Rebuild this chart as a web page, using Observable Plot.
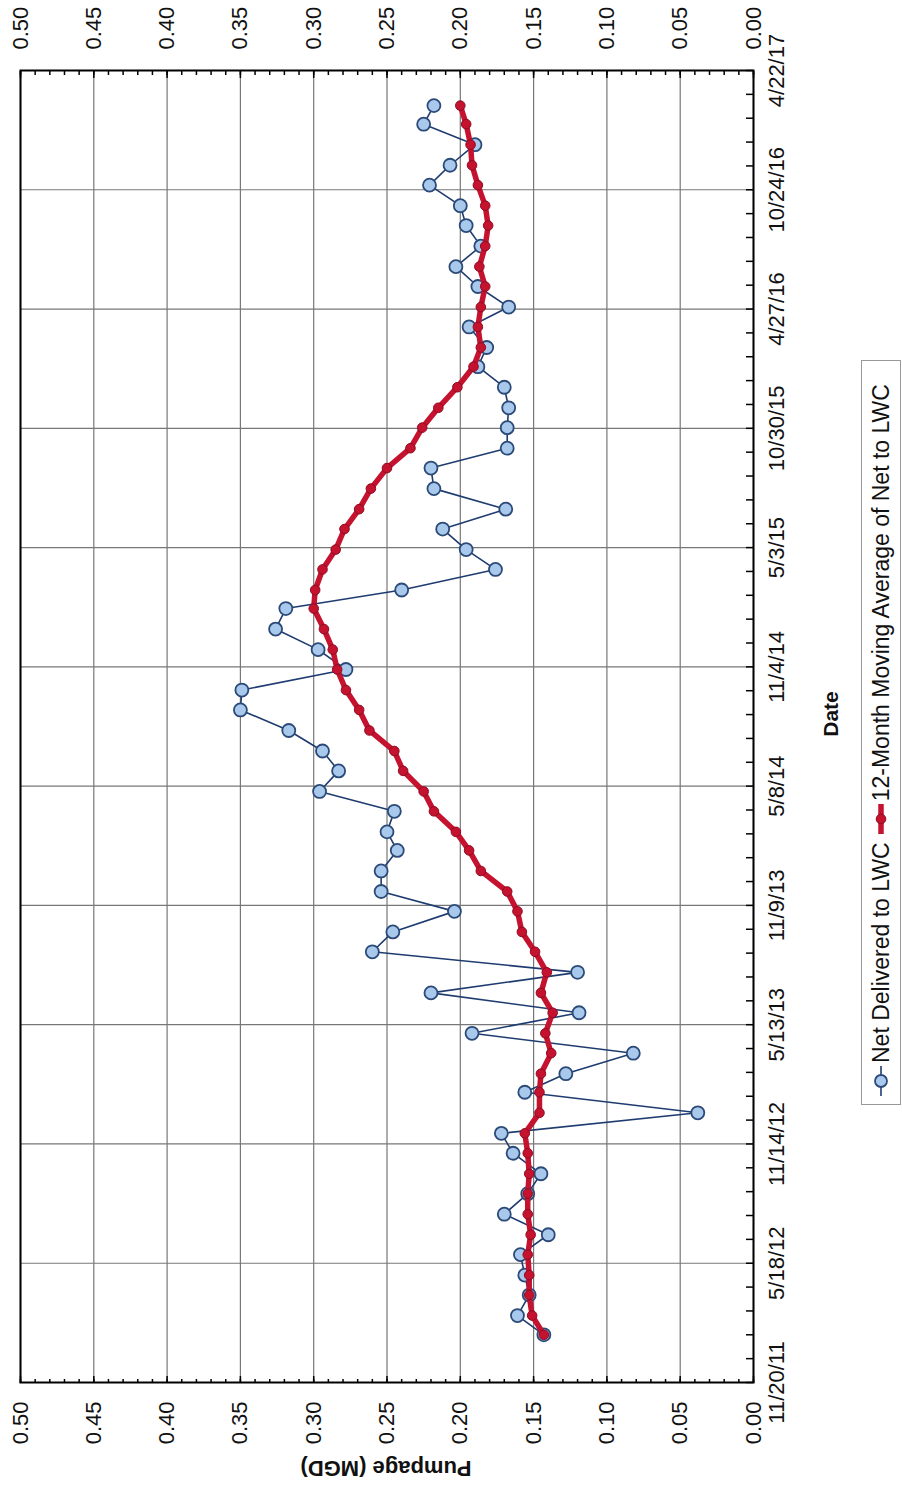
<!DOCTYPE html>
<html>
<head>
<meta charset="utf-8">
<script src="https://cdn.jsdelivr.net/npm/d3@7"></script>
<script src="https://cdn.jsdelivr.net/npm/@observablehq/plot@0.6"></script>
<style>
html, body { margin: 0; padding: 0; background: #fff; overflow: hidden; width: 902px; height: 1486px; }
#rot { position: absolute; left: 0; top: 0; width: 1486px; height: 902px; transform-origin: 0 0;
  transform: translate(0px, 1486px) rotate(-90deg); font-family: Arial, "Liberation Sans", sans-serif; color: #111; }
#chart { position: absolute; left: 0; top: 0; }
#ytitle { position: absolute; left: 18px; top: 386px; transform: translate(-50%, -50%) rotate(-90deg);
  white-space: nowrap; font-weight: bold; font-size: 22px; }
#xtitle { position: absolute; left: 772px; top: 831px; transform: translate(-50%, -50%);
  white-space: nowrap; font-weight: bold; font-size: 21px; }
#legend { position: absolute; left: 381px; top: 861px; width: 745px; height: 40px; box-sizing: border-box;
  border: 1px solid #999; display: flex; align-items: center; font-size: 23px; padding-left: 8px; white-space: nowrap; }
#legend svg { flex: none; }
#legend span { margin-left: 3px; margin-right: 8px; }
</style>
</head>
<body>
<div id="rot">
  <div id="chart"></div>
  <div id="ytitle">Pumpage (MGD)</div>
  <div id="xtitle">Date</div>
  <div id="legend"></div>
</div>
<script>
// ---- data ----
const months = [
  "2012-01-31","2012-02-29","2012-03-31","2012-04-30","2012-05-31","2012-06-30","2012-07-31","2012-08-31","2012-09-30","2012-10-31","2012-11-30","2012-12-31",
  "2013-01-31","2013-02-28","2013-03-31","2013-04-30","2013-05-31","2013-06-30","2013-07-31","2013-08-31","2013-09-30","2013-10-31","2013-11-30","2013-12-31",
  "2014-01-31","2014-02-28","2014-03-31","2014-04-30","2014-05-31","2014-06-30","2014-07-31","2014-08-31","2014-09-30","2014-10-31","2014-11-30","2014-12-31",
  "2015-01-31","2015-02-28","2015-03-31","2015-04-30","2015-05-31","2015-06-30","2015-07-31","2015-08-31","2015-09-30","2015-10-31","2015-11-30","2015-12-31",
  "2016-01-31","2016-02-29","2016-03-31","2016-04-30","2016-05-31","2016-06-30","2016-07-31","2016-08-31","2016-09-30","2016-10-31","2016-11-30","2016-12-31",
  "2017-01-31","2017-02-28"
];
const netDelivered = [
  0.143,0.161,0.153,0.156,0.159,0.140,0.170,0.154,0.145,0.164,0.172,0.038,
  0.156,0.128,0.082,0.192,0.119,0.220,0.120,0.260,0.246,0.204,0.254,0.254,
  0.243,0.250,0.245,0.296,0.283,0.294,0.317,0.350,0.349,0.278,0.297,0.326,
  0.319,0.240,0.176,0.196,0.212,0.169,0.218,0.220,0.168,0.168,0.167,0.170,
  0.188,0.182,0.194,0.167,0.188,0.203,0.186,0.196,0.200,0.221,0.207,0.190,
  0.225,0.218
];
const movingAverage = [
  0.143,0.151,0.153,0.153,0.154,0.152,0.154,0.154,0.153,0.154,0.156,0.146,
  0.146,0.145,0.138,0.142,0.137,0.145,0.141,0.149,0.158,0.161,0.168,0.186,
  0.194,0.203,0.218,0.225,0.239,0.245,0.262,0.269,0.278,0.284,0.287,0.293,
  0.300,0.299,0.294,0.285,0.279,0.269,0.261,0.250,0.234,0.226,0.215,0.202,
  0.191,0.186,0.188,0.186,0.183,0.187,0.183,0.181,0.183,0.188,0.192,0.193,
  0.196,0.200
];
const dateTickLabels = ["2011-11-20","2012-05-18","2012-11-14","2013-05-13","2013-11-09","2014-05-08",
  "2014-11-04","2015-05-03","2015-10-30","2016-04-27","2016-10-24","2017-04-22"];
const valueTicks = [0,0.05,0.10,0.15,0.20,0.25,0.30,0.35,0.40,0.45,0.50];
const seriesNames = ["Net Delivered to LWC", "12-Month Moving Average of Net to LWC"];

// ---- build ----
const parse = d3.utcParse("%Y-%m-%d");
const dateTicks = dateTickLabels.map(parse);
const netData = months.map((m, i) => ({date: parse(m), value: netDelivered[i]}));
const maData = months.map((m, i) => ({date: parse(m), value: movingAverage[i]}));
const fmtDate = d => `${d.getUTCMonth() + 1}/${d.getUTCDate()}/${String(d.getUTCFullYear()).slice(2)}`;
// minor ticks: 5 per major interval on date axis, 0.01 on value axis
const minorDates = d3.range(0, 56).map(i => d3.utcDay.offset(dateTicks[0], 36 * i));
const minorValues = d3.range(0, 51).map(i => i / 100);

const W = 1486, H = 902;
const chart = Plot.plot({
  width: W, height: H,
  marginLeft: 103, marginRight: 71, marginTop: 20, marginBottom: 149,
  style: {fontFamily: 'Arial, "Liberation Sans", sans-serif', fontSize: "22px", color: "#111", background: "#fff"},
  x: {type: "utc", domain: [dateTicks[0], dateTicks[dateTicks.length - 1]]},
  y: {domain: [0, 0.5]},
  marks: [
    Plot.gridX(dateTicks, {stroke: "#777", strokeOpacity: 1, strokeWidth: 1.2}),
    Plot.gridY(valueTicks, {stroke: "#777", strokeOpacity: 1, strokeWidth: 1.2}),
    // inward ticks, bottom date axis
    Plot.ruleX(minorDates, {x: d => d, y1: 0, y2: 0, insetTop: -7, stroke: "#000", strokeWidth: 1.5}),
    // inward ticks, left and right value axes
    Plot.ruleY(minorValues, {y: d => d, x1: dateTicks[0], x2: dateTicks[0], insetRight: -4, stroke: "#000", strokeWidth: 1.5}),
    Plot.ruleY(valueTicks, {y: d => d, x1: dateTicks[0], x2: dateTicks[0], insetRight: -7, stroke: "#000", strokeWidth: 1.5}),
    Plot.ruleY(minorValues, {y: d => d, x1: dateTicks[11], x2: dateTicks[11], insetLeft: -4, stroke: "#000", strokeWidth: 1.5}),
    Plot.ruleY(valueTicks, {y: d => d, x1: dateTicks[11], x2: dateTicks[11], insetLeft: -7, stroke: "#000", strokeWidth: 1.5}),
    Plot.axisX(dateTicks, {anchor: "bottom", tickSize: 0, tickPadding: 15, tickFormat: fmtDate, label: null, fill: "#111"}),
    Plot.axisY(valueTicks, {anchor: "left", tickSize: 0, tickPadding: 19, tickFormat: d3.format(".2f"), label: null, fill: "#111"}),
    Plot.axisY(valueTicks, {anchor: "right", tickSize: 0, tickPadding: 21, tickFormat: d3.format(".2f"), label: null, fill: "#111"}),
    Plot.frame({stroke: "#000", strokeWidth: 2}),
    Plot.line(netData, {x: "date", y: "value", stroke: "#1f3c70", strokeWidth: 1.6}),
    Plot.dot(netData, {x: "date", y: "value", r: 6.5, fill: "#a8c9ec", stroke: "#2b4a78", strokeWidth: 1.8}),
    Plot.line(maData, {x: "date", y: "value", stroke: "#c4122f", strokeWidth: 5.5}),
    Plot.dot(maData, {x: "date", y: "value", r: 4.8, fill: "#c4122f", stroke: "#8e0c22", strokeWidth: 1})
  ]
});
document.getElementById("chart").appendChild(chart);

// legend
const legend = document.getElementById("legend");
const sym1 = `<svg width="30" height="20"><line x1="0" y1="10" x2="30" y2="10" stroke="#1f3c70" stroke-width="1.6"/><circle cx="15" cy="10" r="6" fill="#a8c9ec" stroke="#2b4a78" stroke-width="1.8"/></svg>`;
const sym2 = `<svg width="30" height="20"><line x1="0" y1="10" x2="30" y2="10" stroke="#c4122f" stroke-width="5.5"/><circle cx="15" cy="10" r="4.8" fill="#c4122f" stroke="#8e0c22" stroke-width="1"/></svg>`;
legend.innerHTML = `${sym1}<span>${seriesNames[0]}</span>${sym2}<span>${seriesNames[1]}</span>`;
</script>
</body>
</html>
